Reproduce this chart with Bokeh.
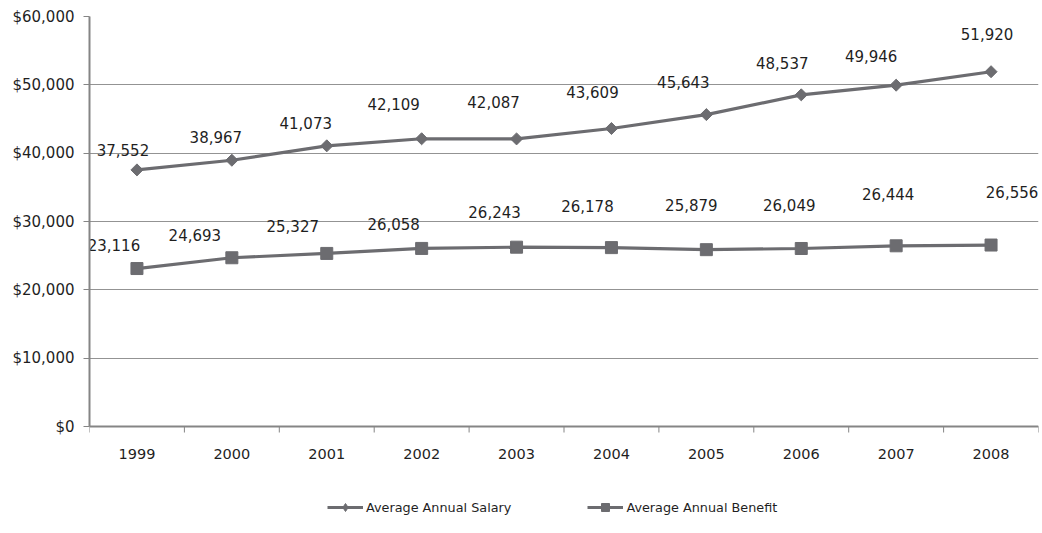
from bokeh.plotting import figure
from bokeh.models import (ColumnDataSource, FixedTicker, NumeralTickFormatter,
                          Range1d, Legend, LegendItem, Span)
from bokeh.core.properties import value
from bokeh.embed import file_html
from bokeh.resources import INLINE
import math

# Annual figures, 1999-2008
years = ["1999", "2000", "2001", "2002", "2003", "2004", "2005", "2006", "2007", "2008"]
salary = [37552, 38967, 41073, 42109, 42087, 43609, 45643, 48537, 49946, 51920]
benefit = [23116, 24693, 25327, 26058, 26243, 26178, 25879, 26049, 26444, 26556]
y_ticks = [0, 10000, 20000, 30000, 40000, 50000, 60000]

# Per-label nudges in screen pixels (x right, y down)
salary_nudge_x = [-14, -16, -21, -28, -23, -19, -23, -19, -25, -4]
salary_nudge_y = [-20, -23, -23, -35, -37, -37, -33, -32, -29, -38]
benefit_nudge_x = [-23, -37, -34, -28, -22, -24, -15, -12, -8, 21]
benefit_nudge_y = [-24, -23, -27, -24, -35, -42, -45, -43, -52, -53]

LINE = "#6c6c70"
AXIS = "#858585"
GRID = "#939393"
TEXT = "#1f1f1f"
FONT = "DejaVu Sans"

W, H = 1042, 533
LEFT, RIGHT, TOP = 89, 4, 16
PLOT_H = 410          # pixel height of the 0..60,000 value band
Y_MAX = 60000
# the frame runs to the bottom edge so the category axis and legend live inside it
y_lo = -Y_MAX * (H - TOP - PLOT_H) / PLOT_H

xs = [i + 0.5 for i in range(len(years))]
bounds = list(range(len(years) + 1))

src_s = ColumnDataSource(dict(
    x=xs, y=salary, label=[f"{v:,}" for v in salary],
    dx=salary_nudge_x, dy=salary_nudge_y))
src_b = ColumnDataSource(dict(
    x=xs, y=benefit, label=[f"{v:,}" for v in benefit],
    dx=benefit_nudge_x, dy=benefit_nudge_y))
src_years = ColumnDataSource(dict(x=xs, y=[0] * len(xs), label=years))
src_ticks = ColumnDataSource(dict(x=bounds, y=[0] * len(bounds)))

p = figure(width=W, height=H, output_backend="svg", toolbar_location=None,
           x_range=Range1d(0, len(years)), y_range=Range1d(y_lo, Y_MAX),
           x_axis_location=None,
           min_border_left=LEFT, min_border_right=RIGHT, min_border_top=TOP,
           min_border_bottom=0)
p.outline_line_color = None
p.background_fill_color = "white"
p.border_fill_color = "white"

# y axis, drawn only over the value band
ya = p.yaxis[0]
ya.bounds = (0, Y_MAX)
ya.ticker = FixedTicker(ticks=y_ticks, minor_ticks=[])
ya.formatter = NumeralTickFormatter(format="$0,0")
ya.axis_line_color = AXIS
ya.axis_line_width = 2
ya.major_tick_line_color = AXIS
ya.major_tick_out = 6
ya.major_tick_in = 0
ya.minor_tick_line_color = None
ya.major_label_standoff = 9
ya.major_label_text_font = FONT
ya.major_label_text_font_size = "15px"
ya.major_label_text_color = TEXT

p.xgrid.grid_line_color = None
p.ygrid.ticker = FixedTicker(ticks=y_ticks)
p.ygrid.grid_line_color = GRID
p.ygrid.grid_line_width = 1

# category axis at zero: base line, boundary ticks and year labels
p.ray("x", "y", source=src_ticks, length=6, length_units="screen",
      angle=-math.pi / 2, line_color=AXIS, line_width=1)
p.add_layout(Span(location=0, dimension="width", line_color=AXIS, line_width=2))
p.text("x", "y", text="label", source=src_years, y_offset=27,
       text_align="center", text_baseline="middle",
       text_font=value(FONT), text_font_size="14.5px", text_color=TEXT)

# series
ls = p.line("x", "y", source=src_s, line_color=LINE, line_width=3.2)
ms = p.scatter("x", "y", source=src_s, marker="square", size=8.5,
               angle=math.pi / 4, fill_color=LINE, line_color=LINE)
lb = p.line("x", "y", source=src_b, line_color=LINE, line_width=3.2)
mb = p.scatter("x", "y", source=src_b, marker="square", size=12,
               fill_color=LINE, line_color=LINE)

# hidden diamond marker used only as the salary legend key
key_s = p.scatter("x", "y", source=src_s, marker="diamond", size=10,
                  fill_color=LINE, line_color=LINE, visible=False)

# value labels
for src in (src_s, src_b):
    p.text("x", "y", text="label", source=src, x_offset="dx", y_offset="dy",
           text_align="center", text_baseline="middle",
           text_font=value(FONT), text_font_size="15px", text_color=TEXT)

legend = Legend(items=[
    LegendItem(label="Average Annual Salary", renderers=[ls, key_s]),
    LegendItem(label="Average Annual Benefit", renderers=[lb, mb]),
], orientation="horizontal", location=(238, 16))
legend.glyph_width = 36
legend.glyph_height = 20
legend.label_standoff = 3
legend.spacing = 76
legend.padding = 0
legend.margin = 0
legend.border_line_color = None
legend.background_fill_alpha = 0
legend.inactive_fill_alpha = 0
legend.label_text_font = FONT
legend.label_text_font_size = "12.8px"
legend.label_text_color = TEXT
p.add_layout(legend, "center")

open("out.html", "w").write(file_html(p, INLINE))
